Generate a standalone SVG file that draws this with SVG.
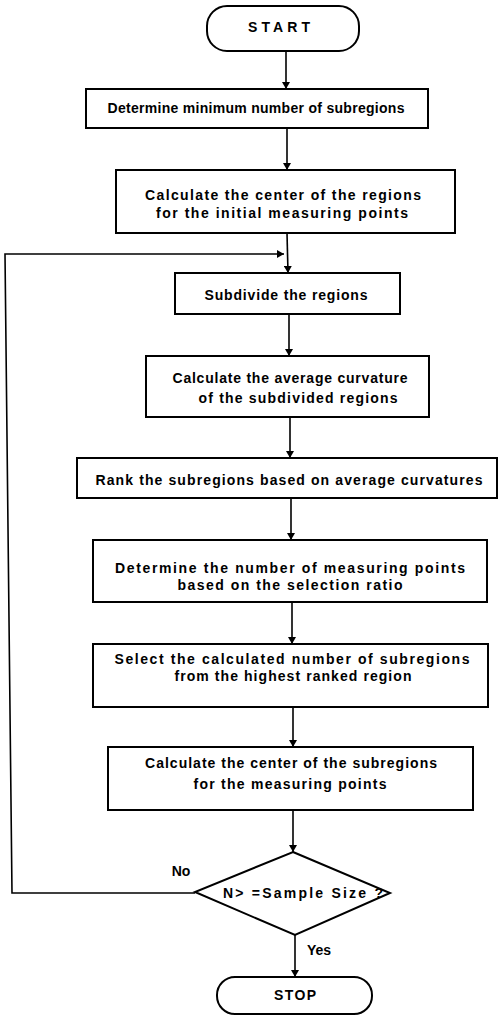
<svg xmlns="http://www.w3.org/2000/svg" width="498" height="1016" viewBox="0 0 498 1016">
<style>
.n{fill:#fff;stroke:#000;stroke-width:2}
.t{font-family:"Liberation Sans",Arial,sans-serif;font-weight:bold;font-size:14px;fill:#000;text-anchor:middle}
.c{fill:none;stroke:#000;stroke-width:1.6}
</style>
<defs>
<marker id="ah" markerWidth="8" markerHeight="8" refX="7" refY="4" orient="auto" markerUnits="userSpaceOnUse">
<path d="M0,0 L7,4 L0,8 Z" fill="#000"/>
</marker>
</defs>
<rect width="498" height="1016" fill="#fff"/>
<g id="connectors">
<line class="c" x1="286" y1="51" x2="286" y2="89" marker-end="url(#ah)"/>
<line class="c" x1="287" y1="128" x2="287" y2="170" marker-end="url(#ah)"/>
<line class="c" x1="287" y1="233" x2="288" y2="273" marker-end="url(#ah)"/>
<polyline class="c" points="195,893 12,893 5,254 284,254" marker-end="url(#ah)"/>
<line class="c" x1="289" y1="314" x2="289" y2="356" marker-end="url(#ah)"/>
<line class="c" x1="290" y1="417" x2="290" y2="458" marker-end="url(#ah)"/>
<line class="c" x1="291" y1="498" x2="291" y2="540" marker-end="url(#ah)"/>
<line class="c" x1="292" y1="602" x2="292" y2="644" marker-end="url(#ah)"/>
<line class="c" x1="293" y1="707" x2="293" y2="747" marker-end="url(#ah)"/>
<line class="c" x1="293" y1="810" x2="293" y2="852" marker-end="url(#ah)"/>
<line class="c" x1="295" y1="935" x2="295" y2="977" marker-end="url(#ah)"/>
<text class="t" x="181" y="876">No</text>
<text class="t" x="319" y="955">Yes</text>
</g>
<g id="start">
<rect class="n" x="207" y="6" width="152" height="45" rx="20" ry="20"/>
<text class="t" x="279" y="32" textLength="62" lengthAdjust="spacing">START</text>
</g>
<g id="box1">
<rect class="n" x="86" y="89" width="342" height="39"/>
<text class="t" x="256" y="113" textLength="297" lengthAdjust="spacing">Determine minimum number of subregions</text>
</g>
<g id="box2">
<rect class="n" x="116" y="170" width="339" height="63"/>
<text class="t" x="283" y="200" textLength="276" lengthAdjust="spacing">Calculate the center of the regions</text>
<text class="t" x="282" y="218" textLength="252" lengthAdjust="spacing">for the initial measuring points</text>
</g>
<g id="box3">
<rect class="n" x="175" y="273" width="225" height="41"/>
<text class="t" x="286" y="300" textLength="163" lengthAdjust="spacing">Subdivide the regions</text>
</g>
<g id="box4">
<rect class="n" x="146" y="356" width="283" height="61"/>
<text class="t" x="290" y="383" textLength="235" lengthAdjust="spacing">Calculate the average curvature</text>
<text class="t" x="298" y="403" textLength="199" lengthAdjust="spacing">of the subdivided regions</text>
</g>
<g id="box5">
<rect class="n" x="77" y="458" width="420" height="40"/>
<text class="t" x="289" y="485" textLength="387" lengthAdjust="spacing">Rank the subregions based on average curvatures</text>
</g>
<g id="box6">
<rect class="n" x="93" y="540" width="394" height="62"/>
<text class="t" x="290" y="573" textLength="350" lengthAdjust="spacing">Determine the number of measuring points</text>
<text class="t" x="290" y="590" textLength="225" lengthAdjust="spacing">based on the selection ratio</text>
</g>
<g id="box7">
<rect class="n" x="93" y="644" width="395" height="63"/>
<text class="t" x="292" y="664" textLength="355" lengthAdjust="spacing">Select the calculated number of subregions</text>
<text class="t" x="293" y="681" textLength="237" lengthAdjust="spacing">from the highest ranked region</text>
</g>
<g id="box8">
<rect class="n" x="108" y="747" width="365" height="63"/>
<text class="t" x="291" y="768" textLength="292" lengthAdjust="spacing">Calculate the center of the subregions</text>
<text class="t" x="290" y="789" textLength="193" lengthAdjust="spacing">for the measuring points</text>
</g>
<g id="decision">
<polygon class="n" points="293,852 390,893 295,935 195,892"/>
<text class="t" x="303" y="898" textLength="160" lengthAdjust="spacing">N&gt; =Sample Size ?</text>
</g>
<g id="stop">
<rect class="n" x="217" y="977" width="155" height="37" rx="18" ry="18"/>
<text class="t" x="295" y="1000" textLength="42" lengthAdjust="spacing">STOP</text>
</g>
</svg>
